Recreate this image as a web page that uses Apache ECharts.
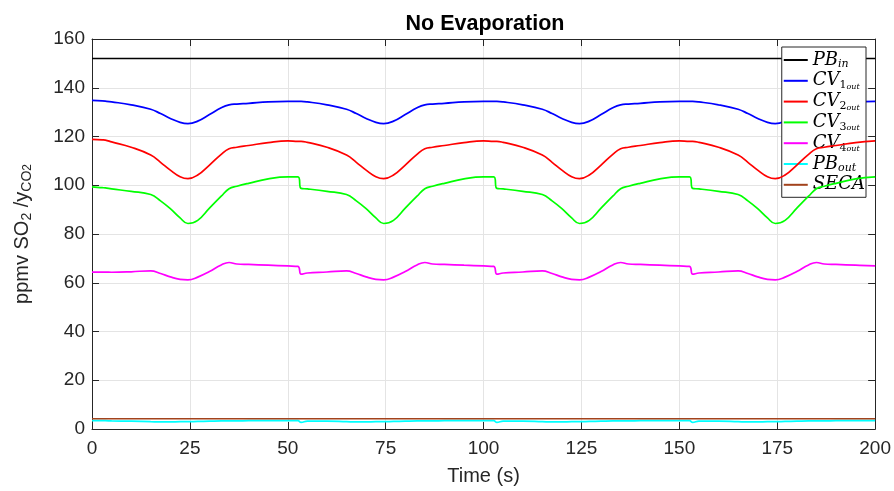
<!DOCTYPE html>
<html>
<head>
<meta charset="utf-8">
<script src="https://cdn.jsdelivr.net/npm/echarts@6/dist/echarts.min.js"></script>
<style>
  html, body { margin: 0; padding: 0; background: #ffffff; }
  #chart { width: 894px; height: 491px; }
</style>
</head>
<body>
<div id="chart"></div>
<script>
// Sample times (s)
const time = [
  0, 2.6, 3.4, 5, 10, 15, 17.5, 20, 22.5, 24.5, 27, 30, 33, 35, 37, 40, 45,
  50, 52.6, 53.4, 55, 60, 65, 67.5, 70, 72.5, 74.5, 77, 80, 83, 85, 87, 90, 95,
  100, 102.6, 103.4, 105, 110, 115, 117.5, 120, 122.5, 124.5, 127, 130, 133, 135, 137, 140, 145,
  150, 152.6, 153.4, 155, 160, 165, 167.5, 170, 172.5, 174.5, 177, 180, 183, 185, 187, 190, 195,
  200
];

// Constant streams (start/end of run)
const timeEnds = [0, 200];
const pbIn = [152, 152];
const seca = [4.2, 4.2];

// Outlet concentrations, ppmv SO2 / y_CO2
const cv1Out = [
  134.8, 134.6, 134.5, 134.2, 133.0, 131.2, 129.4, 127.4, 125.8, 125.3, 126.3, 129.0, 131.8, 133.0, 133.3, 133.6, 134.2,
  134.4, 134.4, 134.4, 134.2, 133.0, 131.2, 129.4, 127.4, 125.8, 125.3, 126.3, 129.0, 131.8, 133.0, 133.3, 133.6, 134.2,
  134.4, 134.4, 134.4, 134.2, 133.0, 131.2, 129.4, 127.4, 125.8, 125.3, 126.3, 129.0, 131.8, 133.0, 133.3, 133.6, 134.2,
  134.4, 134.4, 134.4, 134.2, 133.0, 131.2, 129.4, 127.4, 125.8, 125.3, 126.3, 129.0, 131.8, 133.0, 133.3, 133.6, 134.2,
  134.4
];
const cv2Out = [
  118.8, 118.6, 118.5, 117.8, 115.6, 112.4, 109.4, 106.2, 103.5, 102.7, 104.2, 108.3, 112.7, 115.0, 115.6, 116.3, 117.5,
  118.2, 118.0, 118.0, 117.6, 115.6, 112.4, 109.4, 106.2, 103.5, 102.7, 104.2, 108.3, 112.7, 115.0, 115.6, 116.3, 117.5,
  118.2, 118.0, 118.0, 117.6, 115.6, 112.4, 109.4, 106.2, 103.5, 102.7, 104.2, 108.3, 112.7, 115.0, 115.6, 116.3, 117.5,
  118.2, 118.0, 118.0, 117.6, 115.6, 112.4, 109.4, 106.2, 103.5, 102.7, 104.2, 108.3, 112.7, 115.0, 115.6, 116.3, 117.5,
  118.2
];
const cv3Out = [
  99.3, 99.0, 98.9, 98.5, 97.5, 96.2, 93.6, 90.4, 86.6, 84.3, 85.6, 90.6, 95.5, 98.6, 99.6, 100.8, 102.6,
  103.4, 103.4, 98.7, 98.5, 97.5, 96.2, 93.6, 90.4, 86.6, 84.3, 85.6, 90.6, 95.5, 98.6, 99.6, 100.8, 102.6,
  103.4, 103.4, 98.7, 98.5, 97.5, 96.2, 93.6, 90.4, 86.6, 84.3, 85.6, 90.6, 95.5, 98.6, 99.6, 100.8, 102.6,
  103.4, 103.4, 98.7, 98.5, 97.5, 96.2, 93.6, 90.4, 86.6, 84.3, 85.6, 90.6, 95.5, 98.6, 99.6, 100.8, 102.6,
  103.4
];
const cv4Out = [
  64.4, 64.4, 64.4, 64.3, 64.5, 64.9, 63.8, 62.4, 61.4, 61.2, 62.3, 64.6, 67.3, 68.3, 67.7, 67.5, 67.2,
  66.9, 66.7, 63.5, 64.0, 64.4, 64.9, 63.8, 62.4, 61.4, 61.2, 62.3, 64.6, 67.3, 68.3, 67.7, 67.5, 67.2,
  66.9, 66.7, 63.5, 64.0, 64.4, 64.9, 63.8, 62.4, 61.4, 61.2, 62.3, 64.6, 67.3, 68.3, 67.7, 67.5, 67.2,
  66.9, 66.7, 63.5, 64.0, 64.4, 64.9, 63.8, 62.4, 61.4, 61.2, 62.3, 64.6, 67.3, 68.3, 67.7, 67.5, 67.2,
  66.9
];
const pbOut = [
  3.4, 3.4, 3.4, 3.3, 3.2, 3.0, 2.9, 2.9, 3.0, 3.0, 3.1, 3.2, 3.3, 3.3, 3.3, 3.4, 3.4,
  3.4, 3.4, 2.7, 3.2, 3.2, 3.0, 2.9, 2.9, 3.0, 3.0, 3.1, 3.2, 3.3, 3.3, 3.3, 3.4, 3.4,
  3.4, 3.4, 2.7, 3.2, 3.2, 3.0, 2.9, 2.9, 3.0, 3.0, 3.1, 3.2, 3.3, 3.3, 3.3, 3.4, 3.4,
  3.4, 3.4, 2.7, 3.2, 3.2, 3.0, 2.9, 2.9, 3.0, 3.0, 3.1, 3.2, 3.3, 3.3, 3.3, 3.4, 3.4,
  3.4
];

// Axis ticks
const xMin = 0, xMax = 200, xStep = 25;
const yMin = 0, yMax = 160, yStep = 20;

const seriesNames = ['PB_in', 'CV1_out', 'CV2_out', 'CV3_out', 'CV4_out', 'PB_out', 'SECA'];
const legendLabels = {
  'PB_in': '{m|PB}{s|in}',
  'CV1_out': '{m|CV}{d|1}{o|out}',
  'CV2_out': '{m|CV}{d|2}{o|out}',
  'CV3_out': '{m|CV}{d|3}{o|out}',
  'CV4_out': '{m|CV}{d|4}{o|out}',
  'PB_out': '{m|PB}{s|out}',
  'SECA': '{m|SECA}'
};
const colors = ['#000000', '#0000ff', '#ff0000', '#00ff00', '#ff00ff', '#00ffff', '#a2421c'];

const pair = (xs, ys) => xs.map((x, i) => [x, ys[i]]);
const seriesData = [
  pair(timeEnds, pbIn),
  pair(time, cv1Out),
  pair(time, cv2Out),
  pair(time, cv3Out),
  pair(time, cv4Out),
  pair(time, pbOut),
  pair(timeEnds, seca)
];

const axisColor = '#262626';
const gridColor = '#e4e4e4';
const sansFont = 'Liberation Sans, Arial, sans-serif';
const mathFont = 'DejaVu Serif, Liberation Serif, serif';

const chart = echarts.init(document.getElementById('chart'), null, { renderer: 'canvas' });

chart.setOption({
  animation: false,
  backgroundColor: '#ffffff',
  title: {
    text: 'No Evaporation',
    left: 480, top: 8,
    textAlign: 'center',
    textStyle: { fontFamily: sansFont, fontSize: 21.5, fontWeight: 'bold', color: '#000000' }
  },
  grid: { left: 92, right: 18, top: 39, bottom: 58, containLabel: false },
  legend: {
    right: 28, top: 47,
    orient: 'vertical',
    data: seriesNames,
    icon: 'rect',
    itemWidth: 24, itemHeight: 2,
    itemGap: 1.8,
    padding: [4, 1, 3.5, 2],
    backgroundColor: '#ffffff',
    borderColor: '#262626', borderWidth: 1, borderRadius: 0,
    selectedMode: false,
    formatter: name => legendLabels[name],
    textStyle: {
      color: '#000000',
      rich: {
        m: { fontFamily: mathFont, fontStyle: 'italic', fontSize: 18, lineHeight: 20, color: '#000' },
        s: { fontFamily: mathFont, fontStyle: 'italic', fontSize: 11, lineHeight: 10, verticalAlign: 'bottom', color: '#000' },
        d: { fontFamily: mathFont, fontSize: 11, lineHeight: 10, verticalAlign: 'bottom', color: '#000' },
        o: { fontFamily: mathFont, fontStyle: 'italic', fontSize: 8, lineHeight: 5, verticalAlign: 'bottom', color: '#000' }
      }
    }
  },
  xAxis: [
    {
      type: 'value', min: xMin, max: xMax, interval: xStep, position: 'bottom',
      name: 'Time (s)', nameLocation: 'middle', nameGap: 37,
      nameTextStyle: { fontFamily: sansFont, fontSize: 20, color: axisColor },
      axisLine: { show: true, onZero: false, lineStyle: { color: axisColor, width: 1 } },
      axisTick: { show: true, inside: true, length: 7, lineStyle: { color: axisColor } },
      axisLabel: { fontFamily: sansFont, fontSize: 19, color: axisColor, margin: 10 },
      splitLine: { show: true, lineStyle: { color: gridColor, width: 1 } }
    },
    {
      type: 'value', min: xMin, max: xMax, interval: xStep, position: 'top',
      axisLine: { show: true, onZero: false, lineStyle: { color: axisColor, width: 1 } },
      axisTick: { show: true, inside: true, length: 7, lineStyle: { color: axisColor } },
      axisLabel: { show: false },
      splitLine: { show: false }
    }
  ],
  yAxis: [
    {
      type: 'value', min: yMin, max: yMax, interval: yStep, position: 'left',
      name: '{a|ppmv SO}{b|2}{a| /y}{b|CO}{c|2}',
      nameLocation: 'middle', nameGap: 58, nameRotate: 90,
      nameTextStyle: {
        color: axisColor,
        rich: {
          a: { fontFamily: sansFont, fontSize: 20, lineHeight: 24, color: axisColor },
          b: { fontFamily: sansFont, fontSize: 14, lineHeight: 10, verticalAlign: 'bottom', color: axisColor },
          c: { fontFamily: sansFont, fontSize: 12, lineHeight: 3, verticalAlign: 'bottom', color: axisColor }
        }
      },
      axisLine: { show: true, onZero: false, lineStyle: { color: axisColor, width: 1 } },
      axisTick: { show: true, inside: true, length: 7, lineStyle: { color: axisColor } },
      axisLabel: { fontFamily: sansFont, fontSize: 19, color: axisColor, margin: 7 },
      splitLine: { show: true, lineStyle: { color: gridColor, width: 1 } }
    },
    {
      type: 'value', min: yMin, max: yMax, interval: yStep, position: 'right',
      axisLine: { show: true, onZero: false, lineStyle: { color: axisColor, width: 1 } },
      axisTick: { show: true, inside: true, length: 7, lineStyle: { color: axisColor } },
      axisLabel: { show: false },
      splitLine: { show: false }
    }
  ],
  series: seriesNames.map((name, i) => ({
    name: name,
    type: 'line',
    xAxisIndex: 0, yAxisIndex: 0,
    data: seriesData[i],
    showSymbol: false,
    symbol: 'none',
    smooth: 0.45,
    color: colors[i],
    lineStyle: { color: colors[i], width: 1.7 },
    emphasis: { disabled: true },
    z: 2 + i
  }))
});
</script>
</body>
</html>
